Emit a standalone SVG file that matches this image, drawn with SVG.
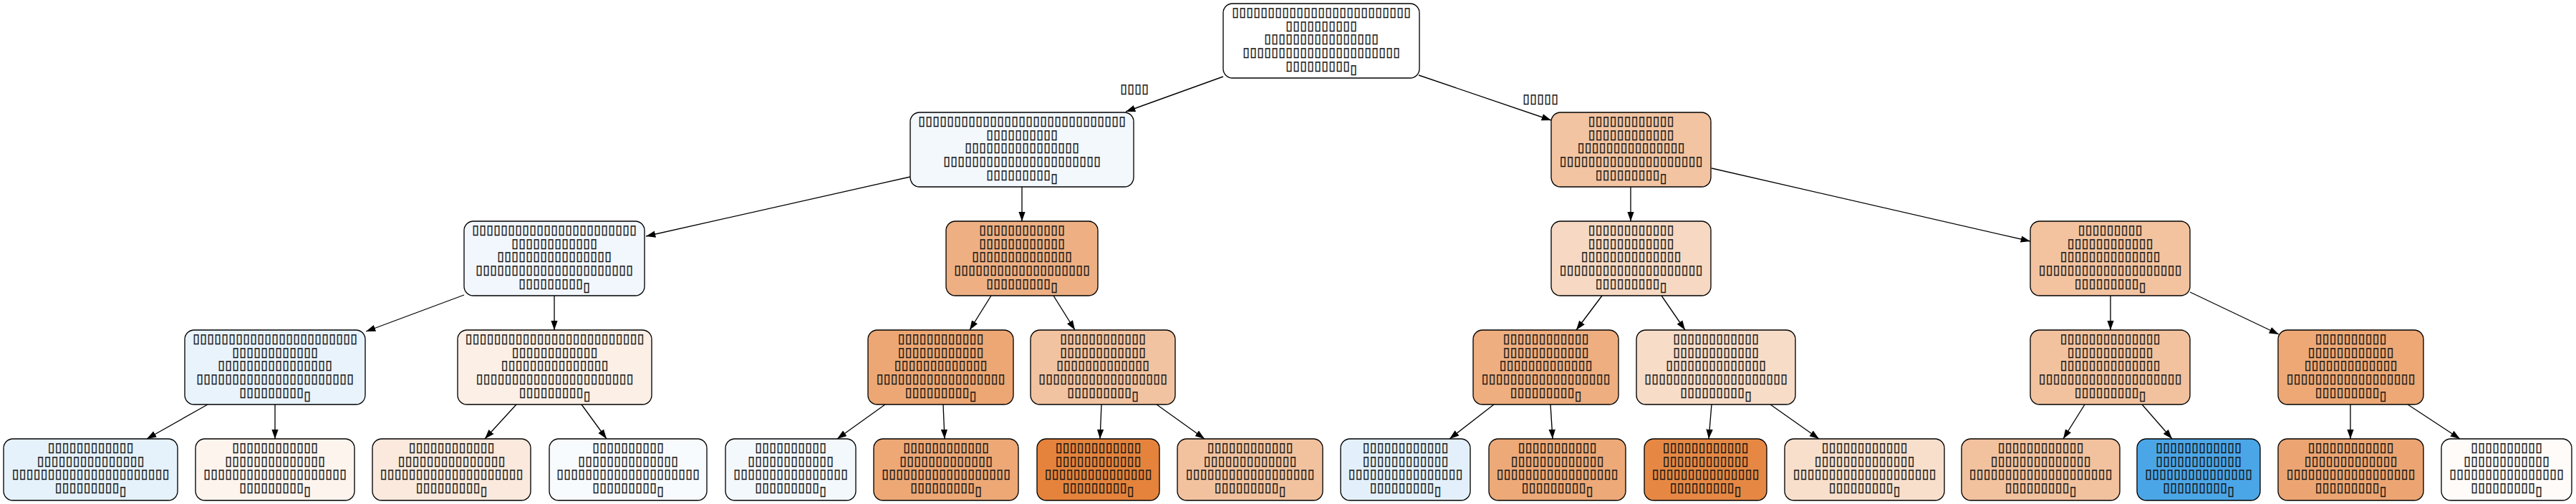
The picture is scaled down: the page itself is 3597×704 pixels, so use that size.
<svg xmlns="http://www.w3.org/2000/svg" width="3597" height="704" viewBox="0 0 3597 704">
<style>
rect.n{stroke:#000;stroke-width:1.33}
text{font-family:"DejaVu Sans",sans-serif;font-size:18px;text-anchor:middle;fill:#000;stroke:#222;stroke-width:0.35}
#connectors path{stroke:#000;stroke-width:1.33;fill:none;marker-end:url(#arr)}
</style>
<defs>
<marker id="arr" markerUnits="userSpaceOnUse" markerWidth="14" markerHeight="10" viewBox="0 0 14 10" refX="13.3" refY="5" orient="auto"><path d="M0,0.3 L13.3,5 L0,9.7 z" fill="#000" stroke="none"/></marker>
</defs>
<rect width="3597" height="704" fill="#fff"/>
<g id="connectors">
<path d="M1708,107 L1572,156"/>
<path d="M1981,105 L2166,168"/>
<path d="M1271,247 L902,330"/>
<path d="M1427,261 L1427,309"/>
<path d="M2277,261 L2277,309"/>
<path d="M2390,235 L2835,337"/>
<path d="M648,412 L511,463"/>
<path d="M774,413 L774,461"/>
<path d="M1384,413 L1354,461"/>
<path d="M1471,413 L1501,461"/>
<path d="M2237,413 L2201,461"/>
<path d="M2320,413 L2353,461"/>
<path d="M2947,413 L2947,461"/>
<path d="M3058,408 L3182,467"/>
<path d="M290,565 L205,613"/>
<path d="M384,565 L384,613"/>
<path d="M721,565 L677,613"/>
<path d="M812,565 L847,613"/>
<path d="M1236,565 L1169,613"/>
<path d="M1317,565 L1319,613"/>
<path d="M1538,565 L1536,613"/>
<path d="M1615,565 L1682,613"/>
<path d="M2086,565 L2024,613"/>
<path d="M2165,565 L2168,613"/>
<path d="M2390,565 L2386,613"/>
<path d="M2472,565 L2540,613"/>
<path d="M2911,565 L2881,613"/>
<path d="M2991,565 L3033,613"/>
<path d="M3282,565 L3282,613"/>
<path d="M3362,565 L3435,613"/>
<text x="1584" y="130" textLength="40">▯▯▯▯</text>
<text x="2151" y="144" textLength="50">▯▯▯▯▯</text>
</g>
<g id="root">
<rect class="n" x="1708" y="5" width="274" height="104" rx="13" fill="#ffffff"/>
<text x="1845" y="23" textLength="250">▯▯▯▯▯▯▯▯▯▯▯▯▯▯▯▯▯▯▯▯▯▯▯▯▯</text>
<text x="1845" y="41.7" textLength="100">▯▯▯▯▯▯▯▯▯▯</text>
<text x="1845" y="60.3" textLength="160">▯▯▯▯▯▯▯▯▯▯▯▯▯▯▯▯</text>
<text x="1845" y="79" textLength="220">▯▯▯▯▯▯▯▯▯▯▯▯▯▯▯▯▯▯▯▯▯▯</text>
<text x="1845" y="97.7" textLength="100">▯▯▯▯▯▯▯▯▯<tspan dy="5">▯</tspan></text>
</g>
<g id="n1">
<rect class="n" x="1271" y="157" width="312" height="104" rx="13" fill="#f3f8fd"/>
<text x="1427" y="175" textLength="290">▯▯▯▯▯▯▯▯▯▯▯▯▯▯▯▯▯▯▯▯▯▯▯▯▯▯▯▯▯</text>
<text x="1427" y="193.7" textLength="100">▯▯▯▯▯▯▯▯▯▯</text>
<text x="1427" y="212.3" textLength="160">▯▯▯▯▯▯▯▯▯▯▯▯▯▯▯▯</text>
<text x="1427" y="231" textLength="220">▯▯▯▯▯▯▯▯▯▯▯▯▯▯▯▯▯▯▯▯▯▯</text>
<text x="1427" y="249.7" textLength="100">▯▯▯▯▯▯▯▯▯<tspan dy="5">▯</tspan></text>
</g>
<g id="n2">
<rect class="n" x="2166" y="157" width="223" height="104" rx="13" fill="#f3c4a2"/>
<text x="2277.5" y="175" textLength="120">▯▯▯▯▯▯▯▯▯▯▯▯</text>
<text x="2277.5" y="193.7" textLength="120">▯▯▯▯▯▯▯▯▯▯▯▯</text>
<text x="2277.5" y="212.3" textLength="150">▯▯▯▯▯▯▯▯▯▯▯▯▯▯▯</text>
<text x="2277.5" y="231" textLength="200">▯▯▯▯▯▯▯▯▯▯▯▯▯▯▯▯▯▯▯▯</text>
<text x="2277.5" y="249.7" textLength="100">▯▯▯▯▯▯▯▯▯<tspan dy="5">▯</tspan></text>
</g>
<g id="n3">
<rect class="n" x="648" y="309" width="252" height="104" rx="13" fill="#f2f7fd"/>
<text x="774" y="327" textLength="230">▯▯▯▯▯▯▯▯▯▯▯▯▯▯▯▯▯▯▯▯▯▯▯</text>
<text x="774" y="345.7" textLength="120">▯▯▯▯▯▯▯▯▯▯▯▯</text>
<text x="774" y="364.3" textLength="160">▯▯▯▯▯▯▯▯▯▯▯▯▯▯▯▯</text>
<text x="774" y="383" textLength="220">▯▯▯▯▯▯▯▯▯▯▯▯▯▯▯▯▯▯▯▯▯▯</text>
<text x="774" y="401.7" textLength="100">▯▯▯▯▯▯▯▯▯<tspan dy="5">▯</tspan></text>
</g>
<g id="n4">
<rect class="n" x="1321" y="309" width="212" height="104" rx="13" fill="#eeb083"/>
<text x="1427" y="327" textLength="120">▯▯▯▯▯▯▯▯▯▯▯▯</text>
<text x="1427" y="345.7" textLength="120">▯▯▯▯▯▯▯▯▯▯▯▯</text>
<text x="1427" y="364.3" textLength="140">▯▯▯▯▯▯▯▯▯▯▯▯▯▯</text>
<text x="1427" y="383" textLength="190">▯▯▯▯▯▯▯▯▯▯▯▯▯▯▯▯▯▯▯</text>
<text x="1427" y="401.7" textLength="100">▯▯▯▯▯▯▯▯▯<tspan dy="5">▯</tspan></text>
</g>
<g id="n5">
<rect class="n" x="2166" y="309" width="223" height="104" rx="13" fill="#f7d9c3"/>
<text x="2277.5" y="327" textLength="120">▯▯▯▯▯▯▯▯▯▯▯▯</text>
<text x="2277.5" y="345.7" textLength="120">▯▯▯▯▯▯▯▯▯▯▯▯</text>
<text x="2277.5" y="364.3" textLength="140">▯▯▯▯▯▯▯▯▯▯▯▯▯▯</text>
<text x="2277.5" y="383" textLength="200">▯▯▯▯▯▯▯▯▯▯▯▯▯▯▯▯▯▯▯▯</text>
<text x="2277.5" y="401.7" textLength="100">▯▯▯▯▯▯▯▯▯<tspan dy="5">▯</tspan></text>
</g>
<g id="n6">
<rect class="n" x="2835" y="309" width="223" height="104" rx="13" fill="#f3c3a0"/>
<text x="2946.5" y="327" textLength="90">▯▯▯▯▯▯▯▯▯</text>
<text x="2946.5" y="345.7" textLength="120">▯▯▯▯▯▯▯▯▯▯▯▯</text>
<text x="2946.5" y="364.3" textLength="140">▯▯▯▯▯▯▯▯▯▯▯▯▯▯</text>
<text x="2946.5" y="383" textLength="200">▯▯▯▯▯▯▯▯▯▯▯▯▯▯▯▯▯▯▯▯</text>
<text x="2946.5" y="401.7" textLength="100">▯▯▯▯▯▯▯▯▯<tspan dy="5">▯</tspan></text>
</g>
<g id="n7">
<rect class="n" x="258" y="461" width="252" height="104" rx="13" fill="#e8f3fc"/>
<text x="384" y="479" textLength="230">▯▯▯▯▯▯▯▯▯▯▯▯▯▯▯▯▯▯▯▯▯▯▯</text>
<text x="384" y="497.7" textLength="120">▯▯▯▯▯▯▯▯▯▯▯▯</text>
<text x="384" y="516.3" textLength="160">▯▯▯▯▯▯▯▯▯▯▯▯▯▯▯▯</text>
<text x="384" y="535" textLength="220">▯▯▯▯▯▯▯▯▯▯▯▯▯▯▯▯▯▯▯▯▯▯</text>
<text x="384" y="553.7" textLength="100">▯▯▯▯▯▯▯▯▯<tspan dy="5">▯</tspan></text>
</g>
<g id="n8">
<rect class="n" x="639" y="461" width="271" height="104" rx="13" fill="#fcefe6"/>
<text x="774.5" y="479" textLength="250">▯▯▯▯▯▯▯▯▯▯▯▯▯▯▯▯▯▯▯▯▯▯▯▯▯</text>
<text x="774.5" y="497.7" textLength="120">▯▯▯▯▯▯▯▯▯▯▯▯</text>
<text x="774.5" y="516.3" textLength="150">▯▯▯▯▯▯▯▯▯▯▯▯▯▯▯</text>
<text x="774.5" y="535" textLength="220">▯▯▯▯▯▯▯▯▯▯▯▯▯▯▯▯▯▯▯▯▯▯</text>
<text x="774.5" y="553.7" textLength="100">▯▯▯▯▯▯▯▯▯<tspan dy="5">▯</tspan></text>
</g>
<g id="n9">
<rect class="n" x="1212" y="461" width="203" height="104" rx="13" fill="#eda774"/>
<text x="1313.5" y="479" textLength="120">▯▯▯▯▯▯▯▯▯▯▯▯</text>
<text x="1313.5" y="497.7" textLength="120">▯▯▯▯▯▯▯▯▯▯▯▯</text>
<text x="1313.5" y="516.3" textLength="130">▯▯▯▯▯▯▯▯▯▯▯▯▯</text>
<text x="1313.5" y="535" textLength="180">▯▯▯▯▯▯▯▯▯▯▯▯▯▯▯▯▯▯</text>
<text x="1313.5" y="553.7" textLength="100">▯▯▯▯▯▯▯▯▯<tspan dy="5">▯</tspan></text>
</g>
<g id="n10">
<rect class="n" x="1439" y="461" width="202" height="104" rx="13" fill="#f2c3a0"/>
<text x="1540" y="479" textLength="120">▯▯▯▯▯▯▯▯▯▯▯▯</text>
<text x="1540" y="497.7" textLength="120">▯▯▯▯▯▯▯▯▯▯▯▯</text>
<text x="1540" y="516.3" textLength="130">▯▯▯▯▯▯▯▯▯▯▯▯▯</text>
<text x="1540" y="535" textLength="180">▯▯▯▯▯▯▯▯▯▯▯▯▯▯▯▯▯▯</text>
<text x="1540" y="553.7" textLength="100">▯▯▯▯▯▯▯▯▯<tspan dy="5">▯</tspan></text>
</g>
<g id="n11">
<rect class="n" x="2057" y="461" width="203" height="104" rx="13" fill="#eeae80"/>
<text x="2158.5" y="479" textLength="120">▯▯▯▯▯▯▯▯▯▯▯▯</text>
<text x="2158.5" y="497.7" textLength="120">▯▯▯▯▯▯▯▯▯▯▯▯</text>
<text x="2158.5" y="516.3" textLength="130">▯▯▯▯▯▯▯▯▯▯▯▯▯</text>
<text x="2158.5" y="535" textLength="180">▯▯▯▯▯▯▯▯▯▯▯▯▯▯▯▯▯▯</text>
<text x="2158.5" y="553.7" textLength="100">▯▯▯▯▯▯▯▯▯<tspan dy="5">▯</tspan></text>
</g>
<g id="n12">
<rect class="n" x="2285" y="461" width="222" height="104" rx="13" fill="#f7dcc8"/>
<text x="2396" y="479" textLength="120">▯▯▯▯▯▯▯▯▯▯▯▯</text>
<text x="2396" y="497.7" textLength="120">▯▯▯▯▯▯▯▯▯▯▯▯</text>
<text x="2396" y="516.3" textLength="140">▯▯▯▯▯▯▯▯▯▯▯▯▯▯</text>
<text x="2396" y="535" textLength="200">▯▯▯▯▯▯▯▯▯▯▯▯▯▯▯▯▯▯▯▯</text>
<text x="2396" y="553.7" textLength="100">▯▯▯▯▯▯▯▯▯<tspan dy="5">▯</tspan></text>
</g>
<g id="n13">
<rect class="n" x="2835" y="461" width="223" height="104" rx="13" fill="#f2c29f"/>
<text x="2946.5" y="479" textLength="140">▯▯▯▯▯▯▯▯▯▯▯▯▯▯</text>
<text x="2946.5" y="497.7" textLength="120">▯▯▯▯▯▯▯▯▯▯▯▯</text>
<text x="2946.5" y="516.3" textLength="140">▯▯▯▯▯▯▯▯▯▯▯▯▯▯</text>
<text x="2946.5" y="535" textLength="200">▯▯▯▯▯▯▯▯▯▯▯▯▯▯▯▯▯▯▯▯</text>
<text x="2946.5" y="553.7" textLength="100">▯▯▯▯▯▯▯▯▯<tspan dy="5">▯</tspan></text>
</g>
<g id="n14">
<rect class="n" x="3181" y="461" width="203" height="104" rx="13" fill="#eda876"/>
<text x="3282.5" y="479" textLength="100">▯▯▯▯▯▯▯▯▯▯</text>
<text x="3282.5" y="497.7" textLength="120">▯▯▯▯▯▯▯▯▯▯▯▯</text>
<text x="3282.5" y="516.3" textLength="130">▯▯▯▯▯▯▯▯▯▯▯▯▯</text>
<text x="3282.5" y="535" textLength="180">▯▯▯▯▯▯▯▯▯▯▯▯▯▯▯▯▯▯</text>
<text x="3282.5" y="553.7" textLength="100">▯▯▯▯▯▯▯▯▯<tspan dy="5">▯</tspan></text>
</g>
<g id="n15">
<rect class="n" x="5" y="613" width="243" height="86" rx="13" fill="#e5f1fb"/>
<text x="126.5" y="631" textLength="120">▯▯▯▯▯▯▯▯▯▯▯▯</text>
<text x="126.5" y="649.7" textLength="150">▯▯▯▯▯▯▯▯▯▯▯▯▯▯▯</text>
<text x="126.5" y="668.3" textLength="220">▯▯▯▯▯▯▯▯▯▯▯▯▯▯▯▯▯▯▯▯▯▯</text>
<text x="126.5" y="687" textLength="100">▯▯▯▯▯▯▯▯▯<tspan dy="5">▯</tspan></text>
</g>
<g id="n16">
<rect class="n" x="273" y="613" width="222" height="86" rx="13" fill="#fdf4ee"/>
<text x="384" y="631" textLength="120">▯▯▯▯▯▯▯▯▯▯▯▯</text>
<text x="384" y="649.7" textLength="140">▯▯▯▯▯▯▯▯▯▯▯▯▯▯</text>
<text x="384" y="668.3" textLength="200">▯▯▯▯▯▯▯▯▯▯▯▯▯▯▯▯▯▯▯▯</text>
<text x="384" y="687" textLength="100">▯▯▯▯▯▯▯▯▯<tspan dy="5">▯</tspan></text>
</g>
<g id="n17">
<rect class="n" x="520" y="613" width="221" height="86" rx="13" fill="#fae9dc"/>
<text x="630.5" y="631" textLength="120">▯▯▯▯▯▯▯▯▯▯▯▯</text>
<text x="630.5" y="649.7" textLength="150">▯▯▯▯▯▯▯▯▯▯▯▯▯▯▯</text>
<text x="630.5" y="668.3" textLength="200">▯▯▯▯▯▯▯▯▯▯▯▯▯▯▯▯▯▯▯▯</text>
<text x="630.5" y="687" textLength="100">▯▯▯▯▯▯▯▯▯<tspan dy="5">▯</tspan></text>
</g>
<g id="n18">
<rect class="n" x="767" y="613" width="220" height="86" rx="13" fill="#f8fbfe"/>
<text x="877" y="631" textLength="100">▯▯▯▯▯▯▯▯▯▯</text>
<text x="877" y="649.7" textLength="140">▯▯▯▯▯▯▯▯▯▯▯▯▯▯</text>
<text x="877" y="668.3" textLength="200">▯▯▯▯▯▯▯▯▯▯▯▯▯▯▯▯▯▯▯▯</text>
<text x="877" y="687" textLength="100">▯▯▯▯▯▯▯▯▯<tspan dy="5">▯</tspan></text>
</g>
<g id="n19">
<rect class="n" x="1013" y="613" width="182" height="86" rx="13" fill="#f3f8fd"/>
<text x="1104" y="631" textLength="100">▯▯▯▯▯▯▯▯▯▯</text>
<text x="1104" y="649.7" textLength="120">▯▯▯▯▯▯▯▯▯▯▯▯</text>
<text x="1104" y="668.3" textLength="160">▯▯▯▯▯▯▯▯▯▯▯▯▯▯▯▯</text>
<text x="1104" y="687" textLength="100">▯▯▯▯▯▯▯▯▯<tspan dy="5">▯</tspan></text>
</g>
<g id="n20">
<rect class="n" x="1220" y="613" width="202" height="86" rx="13" fill="#eda876"/>
<text x="1321" y="631" textLength="120">▯▯▯▯▯▯▯▯▯▯▯▯</text>
<text x="1321" y="649.7" textLength="130">▯▯▯▯▯▯▯▯▯▯▯▯▯</text>
<text x="1321" y="668.3" textLength="180">▯▯▯▯▯▯▯▯▯▯▯▯▯▯▯▯▯▯</text>
<text x="1321" y="687" textLength="100">▯▯▯▯▯▯▯▯▯<tspan dy="5">▯</tspan></text>
</g>
<g id="n21">
<rect class="n" x="1448" y="613" width="171" height="86" rx="13" fill="#e5833c"/>
<text x="1533.5" y="631" textLength="120">▯▯▯▯▯▯▯▯▯▯▯▯</text>
<text x="1533.5" y="649.7" textLength="120">▯▯▯▯▯▯▯▯▯▯▯▯</text>
<text x="1533.5" y="668.3" textLength="150">▯▯▯▯▯▯▯▯▯▯▯▯▯▯▯</text>
<text x="1533.5" y="687" textLength="100">▯▯▯▯▯▯▯▯▯<tspan dy="5">▯</tspan></text>
</g>
<g id="n22">
<rect class="n" x="1644" y="613" width="203" height="86" rx="13" fill="#f2c29f"/>
<text x="1745.5" y="631" textLength="120">▯▯▯▯▯▯▯▯▯▯▯▯</text>
<text x="1745.5" y="649.7" textLength="130">▯▯▯▯▯▯▯▯▯▯▯▯▯</text>
<text x="1745.5" y="668.3" textLength="180">▯▯▯▯▯▯▯▯▯▯▯▯▯▯▯▯▯▯</text>
<text x="1745.5" y="687" textLength="100">▯▯▯▯▯▯▯▯▯<tspan dy="5">▯</tspan></text>
</g>
<g id="n23">
<rect class="n" x="1872" y="613" width="181" height="86" rx="13" fill="#e3f0fb"/>
<text x="1962.5" y="631" textLength="120">▯▯▯▯▯▯▯▯▯▯▯▯</text>
<text x="1962.5" y="649.7" textLength="120">▯▯▯▯▯▯▯▯▯▯▯▯</text>
<text x="1962.5" y="668.3" textLength="160">▯▯▯▯▯▯▯▯▯▯▯▯▯▯▯▯</text>
<text x="1962.5" y="687" textLength="100">▯▯▯▯▯▯▯▯▯<tspan dy="5">▯</tspan></text>
</g>
<g id="n24">
<rect class="n" x="2079" y="613" width="191" height="86" rx="13" fill="#eda978"/>
<text x="2174.5" y="631" textLength="110">▯▯▯▯▯▯▯▯▯▯▯</text>
<text x="2174.5" y="649.7" textLength="130">▯▯▯▯▯▯▯▯▯▯▯▯▯</text>
<text x="2174.5" y="668.3" textLength="170">▯▯▯▯▯▯▯▯▯▯▯▯▯▯▯▯▯</text>
<text x="2174.5" y="687" textLength="100">▯▯▯▯▯▯▯▯▯<tspan dy="5">▯</tspan></text>
</g>
<g id="n25">
<rect class="n" x="2296" y="613" width="171" height="86" rx="13" fill="#e68844"/>
<text x="2381.5" y="631" textLength="120">▯▯▯▯▯▯▯▯▯▯▯▯</text>
<text x="2381.5" y="649.7" textLength="120">▯▯▯▯▯▯▯▯▯▯▯▯</text>
<text x="2381.5" y="668.3" textLength="150">▯▯▯▯▯▯▯▯▯▯▯▯▯▯▯</text>
<text x="2381.5" y="687" textLength="100">▯▯▯▯▯▯▯▯▯<tspan dy="5">▯</tspan></text>
</g>
<g id="n26">
<rect class="n" x="2492" y="613" width="223" height="86" rx="13" fill="#f8dfcc"/>
<text x="2603.5" y="631" textLength="120">▯▯▯▯▯▯▯▯▯▯▯▯</text>
<text x="2603.5" y="649.7" textLength="140">▯▯▯▯▯▯▯▯▯▯▯▯▯▯</text>
<text x="2603.5" y="668.3" textLength="200">▯▯▯▯▯▯▯▯▯▯▯▯▯▯▯▯▯▯▯▯</text>
<text x="2603.5" y="687" textLength="100">▯▯▯▯▯▯▯▯▯<tspan dy="5">▯</tspan></text>
</g>
<g id="n27">
<rect class="n" x="2739" y="613" width="221" height="86" rx="13" fill="#f2c19e"/>
<text x="2849.5" y="631" textLength="120">▯▯▯▯▯▯▯▯▯▯▯▯</text>
<text x="2849.5" y="649.7" textLength="140">▯▯▯▯▯▯▯▯▯▯▯▯▯▯</text>
<text x="2849.5" y="668.3" textLength="200">▯▯▯▯▯▯▯▯▯▯▯▯▯▯▯▯▯▯▯▯</text>
<text x="2849.5" y="687" textLength="100">▯▯▯▯▯▯▯▯▯<tspan dy="5">▯</tspan></text>
</g>
<g id="n28">
<rect class="n" x="2984" y="613" width="172" height="86" rx="13" fill="#4ba6e7"/>
<text x="3070" y="631" textLength="120">▯▯▯▯▯▯▯▯▯▯▯▯</text>
<text x="3070" y="649.7" textLength="120">▯▯▯▯▯▯▯▯▯▯▯▯</text>
<text x="3070" y="668.3" textLength="150">▯▯▯▯▯▯▯▯▯▯▯▯▯▯▯</text>
<text x="3070" y="687" textLength="100">▯▯▯▯▯▯▯▯▯<tspan dy="5">▯</tspan></text>
</g>
<g id="n29">
<rect class="n" x="3181" y="613" width="203" height="86" rx="13" fill="#eca572"/>
<text x="3282.5" y="631" textLength="120">▯▯▯▯▯▯▯▯▯▯▯▯</text>
<text x="3282.5" y="649.7" textLength="130">▯▯▯▯▯▯▯▯▯▯▯▯▯</text>
<text x="3282.5" y="668.3" textLength="180">▯▯▯▯▯▯▯▯▯▯▯▯▯▯▯▯▯▯</text>
<text x="3282.5" y="687" textLength="100">▯▯▯▯▯▯▯▯▯<tspan dy="5">▯</tspan></text>
</g>
<g id="n30">
<rect class="n" x="3409" y="613" width="182" height="86" rx="13" fill="#fefbf9"/>
<text x="3500" y="631" textLength="100">▯▯▯▯▯▯▯▯▯▯</text>
<text x="3500" y="649.7" textLength="120">▯▯▯▯▯▯▯▯▯▯▯▯</text>
<text x="3500" y="668.3" textLength="160">▯▯▯▯▯▯▯▯▯▯▯▯▯▯▯▯</text>
<text x="3500" y="687" textLength="100">▯▯▯▯▯▯▯▯▯<tspan dy="5">▯</tspan></text>
</g>
</svg>
